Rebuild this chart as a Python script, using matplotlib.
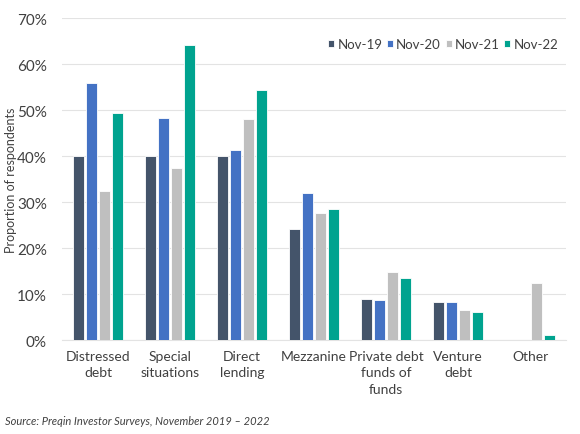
import matplotlib.pyplot as plt
import numpy as np
from matplotlib.ticker import PercentFormatter

categories = ["Distressed\ndebt", "Special\nsituations", "Direct\nlending", "Mezzanine",
              "Private debt\nfunds of\nfunds", "Venture\ndebt", "Other"]
nov19 = [40.0, 40.0, 40.0, 24.1, 8.9, 8.2, 0.0]
nov20 = [55.9, 48.3, 41.3, 31.9, 8.8, 8.3, 0.0]
nov21 = [32.5, 37.4, 48.0, 27.6, 14.9, 6.5, 12.5]
nov22 = [49.4, 64.2, 54.3, 28.5, 13.5, 6.1, 1.2]
series = {"Nov-19": nov19, "Nov-20": nov20, "Nov-21": nov21, "Nov-22": nov22}
colors = ["#44546A", "#4472C4", "#BFBFBF", "#00A38F"]

plt.rcParams['font.family'] = ['Lato', 'DejaVu Sans']
txt = "#404040"

fig = plt.figure(figsize=(5.8, 4.35), dpi=100)
ax = fig.add_axes([0.107, 0.216, 0.869, 0.74])

x = np.arange(len(categories))
w = 0.155
step = 0.18
for i, (name, vals) in enumerate(series.items()):
    ax.bar(x + (i - 1.5) * step, vals, width=w, color=colors[i],
           edgecolor="white", linewidth=0.6, label=name, zorder=3)

ax.set_ylim(0, 70)
ax.set_xlim(-0.5, len(categories) - 0.5)
ax.set_yticks(range(0, 71, 10))
ax.yaxis.set_major_formatter(PercentFormatter(decimals=0))
ax.grid(axis="y", color="#E3E3E3", linewidth=0.8, zorder=0)
for s in ["top", "right", "left"]:
    ax.spines[s].set_visible(False)
ax.spines["bottom"].set_color("#E3E3E3")
ax.tick_params(axis="both", length=0, colors=txt, labelsize=10)
ax.tick_params(axis="y", pad=11, labelsize=11)
ax.tick_params(axis="x", pad=7)
ax.set_xticks(x)
ax.set_xticklabels(categories, linespacing=1.45)
ax.set_ylabel("Proportion of respondents", color=txt, fontsize=9)
ax.yaxis.set_label_coords(-0.09, 0.5)

ax.legend(loc="upper right", bbox_to_anchor=(0.995, 0.955), ncol=4, frameon=False,
          fontsize=9.5, handlelength=0.45, handleheight=0.45, handletextpad=0.25,
          columnspacing=0.35, labelcolor=txt, borderaxespad=0)

fig.text(0.008, 0.022, "Source: Preqin Investor Surveys, November 2019 \u2013 2022",
         fontsize=8, style="italic", color=txt)

fig.savefig("out.png", dpi=100)
